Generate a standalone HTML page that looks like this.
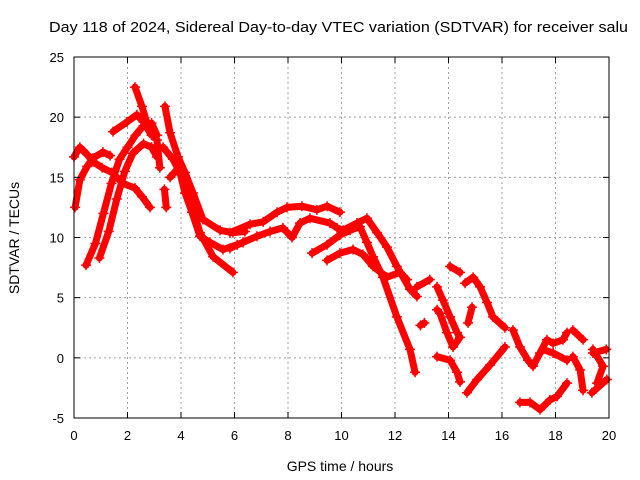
<!DOCTYPE html>
<html><head><meta charset="utf-8"><style>
body{margin:0;background:#fff;}
svg{display:block;font-family:"Liberation Sans",sans-serif;}
</style></head><body>
<svg id="chart" width="640" height="480">
<text x="49" y="32" font-size="15" textLength="579" lengthAdjust="spacingAndGlyphs">Day 118 of 2024, Sidereal Day-to-day VTEC variation (SDTVAR) for receiver salu</text>
<g id="grid"></g>
<g id="series"></g>
<rect x="74" y="57" width="535" height="361" fill="none" stroke="#000" stroke-width="1"/>
<g id="ticks"></g>
<text x="340" y="471" font-size="14" text-anchor="middle">GPS time / hours</text>
<text transform="translate(19,238) rotate(-90)" font-size="14" text-anchor="middle">SDTVAR / TECUs</text>
</svg>
<script>
const xTicks=[0,2,4,6,8,10,12,14,16,18,20];
const yTicks=[-5,0,5,10,15,20,25];
const arcA=[[0,16.7],[0.22,17.5],[0.49,16.9],[0.71,16.3],[1.05,15.8],[1.42,15.4],[1.83,14.5],[2.28,14.1],[2.54,13.4],[2.84,12.5]];
const arcB=[[0.04,12.5],[0.22,14.8],[0.49,15.9],[0.71,16.6],[1.08,17.1],[1.35,16.8]];
const arcC=[[0.45,7.7],[0.8,9.5],[1.1,12],[1.4,14.5],[1.7,16.5],[2.0,17.5],[2.3,18.5],[2.6,19.3],[2.9,19.5],[3.1,18.5]];
const arcD=[[0.95,8.3],[1.3,10.5],[1.6,13.2],[1.9,15.5],[2.2,17],[2.6,17.8],[2.9,17.5],[3.1,16.7]];
const arcE=[[1.46,18.8],[1.98,19.6],[2.35,20.2],[2.6,19.6],[2.9,18.5]];
const arcF=[[2.28,22.5],[2.54,20.9],[2.73,19.5],[3.1,18.1],[3.21,15.8]];
const arcG=[[3.4,20.9],[3.59,18.7],[3.89,16.7],[4.15,15.4],[4.45,13.7],[4.82,11.5],[5.46,10.6],[5.94,10.4],[6.39,10.5]];
const arcH=[[3.33,17.5],[3.7,16.5],[3.96,15.4],[4.15,13.7],[4.41,12.1],[4.71,10.1],[5.08,9.6],[5.57,9.0],[6.1,9.4],[6.32,9.6]];
const arcI=[[3.59,15],[3.96,15.9],[4.22,14.2],[4.45,12.3],[4.71,10.4],[5.2,8.4],[5.94,7.1]];
const arcJ=[[3.38,14.0],[3.45,12.5]];
const arcK=[[5.83,10.4],[6.58,11.1],[7.07,11.3],[7.59,12.1],[7.96,12.5],[8.52,12.6],[9.08,12.3],[9.46,12.6],[9.94,12.1]];
const arcL=[[5.83,9.1],[6.32,9.6],[6.84,10.1],[7.33,10.5],[7.81,10.8],[8.15,10.0],[8.45,11.2],[8.82,11.6],[9.57,11.2],[9.83,10.8],[10.06,10.6],[10.58,11.2],[10.95,11.6],[11.33,10.4],[11.7,9.2],[12.07,7.6],[12.56,5.7],[12.82,5.1]];
const arcM=[[8.9,8.7],[9.46,9.4],[9.94,10.2],[10.32,10.6],[10.69,10.9],[10.95,9.6],[11.18,8.4],[11.55,6.7],[12.07,3.4],[12.56,0.7],[12.75,-1.2]];
const arcN=[[9.46,8.1],[9.94,8.7],[10.43,9.0],[10.8,8.6],[11.18,7.6],[11.7,6.7],[12.19,7.1],[12.45,6.5]];
const arcO=[[12.82,5.9],[13.3,6.5]];
const arcP=[[12.95,2.7],[13.1,2.9]];
const arcQ=[[13.57,5.9],[13.79,4.8],[14.06,3.4],[14.32,2.1],[14.43,1.7],[14.17,0.9],[13.94,2.1],[13.68,3.7],[13.57,4.0]];
const arcR=[[14.06,7.6],[14.43,7.1]];
const arcS=[[14.62,6.2],[14.92,6.7],[15.18,5.9],[15.44,4.6],[15.66,3.4],[16.11,2.5]];
const arcT=[[14.73,2.9],[14.88,4.2]];
const arcU=[[13.57,0.1],[14.06,-0.2],[14.32,-1.2],[14.43,-2.0]];
const arcV=[[14.69,-2.9],[15.07,-1.8],[15.55,-0.6],[16.11,0.9]];
const arcW=[[16.41,2.3],[16.67,0.9],[16.97,-0.2],[17.16,-0.7],[17.42,0.4],[17.68,1.5],[17.91,1.2],[18.28,1.5],[18.43,2.1]];
const arcX=[[17.53,0.7],[17.91,0.4],[18.43,-0.2]];
const arcY=[[16.67,-3.7],[17.05,-3.7],[17.42,-4.3],[17.79,-3.5],[18.06,-3.2],[18.43,-2.1]];
const arcZ=[[18.65,2.3],[19.03,1.5]];
const arcAA=[[18.65,0.1],[18.92,-1.0],[19.03,-2.7]];
const arcAB=[[19.4,0.7],[19.78,-0.7],[19.55,-2.1]];
const arcAC=[[19.36,-2.9],[19.92,-1.8]];
const arcAD=[[19.4,0.4],[19.9,0.7]];
const arcs=[arcA,arcB,arcC,arcD,arcE,arcF,arcG,arcH,arcI,arcJ,arcK,arcL,arcM,arcN,arcO,arcP,arcQ,arcR,arcS,arcT,arcU,arcV,arcW,arcX,arcY,arcZ,arcAA,arcAB,arcAC,arcAD];

const NS="http://www.w3.org/2000/svg";
const X0=74,X1=609,Y0=418,Y1=57;
function xs(v){return X0+(v-0)/(20-0)*(X1-X0);}
function ys(v){return Y0-(v+5)/(30)*(Y0-Y1);}
const grid=document.getElementById('grid'),ticks=document.getElementById('ticks'),ser=document.getElementById('series');
function mk(tag,attrs,parent){const e=document.createElementNS(NS,tag);for(const k in attrs)e.setAttribute(k,attrs[k]);parent.appendChild(e);return e;}
xTicks.forEach(t=>{
  const x=xs(t);
  if(t>0&&t<20){const g=mk('line',{x1:x,x2:x,y1:Y1,y2:Y0,stroke:'#a0a0a0','stroke-dasharray':'2,3'},grid);
  
  }
  mk('line',{x1:x,x2:x,y1:Y0,y2:Y0-6,stroke:'#000'},ticks);
  mk('line',{x1:x,x2:x,y1:Y1,y2:Y1+6,stroke:'#000'},ticks);
  const l=mk('text',{x:x,y:Y0+22,'font-size':13,'text-anchor':'middle'},ticks);l.textContent=t;
  
  
});
yTicks.forEach(t=>{
  const y=ys(t);
  if(t>-5&&t<25){const g=mk('line',{x1:X0,x2:X1,y1:y,y2:y,stroke:'#a0a0a0','stroke-dasharray':'2,3'},grid);
  
  }
  mk('line',{x1:X0,x2:X0+6,y1:y,y2:y,stroke:'#000'},ticks);
  mk('line',{x1:X1,x2:X1-6,y1:y,y2:y,stroke:'#000'},ticks);
  const l=mk('text',{x:X0-10,y:y+5,'font-size':13,'text-anchor':'end'},ticks);l.textContent=t;
  
  
});
arcs.forEach(a=>{
  const pts=a.map(p=>xs(p[0])+','+ys(p[1])).join(' ');
  const pl=mk('polyline',{points:pts,fill:'none',stroke:'#ff0000','stroke-width':7,'stroke-linejoin':'round','stroke-linecap':'round'},ser);
  
  
  a.forEach(p=>{
    const x=xs(p[0]),y=ys(p[1]);
    const m=mk('path',{d:`M${x-5},${y}H${x+5}M${x},${y-5}V${y+5}`,stroke:'#ff0000','stroke-width':1.5},ser);
    
    
  });
});
</script>
</body></html>
